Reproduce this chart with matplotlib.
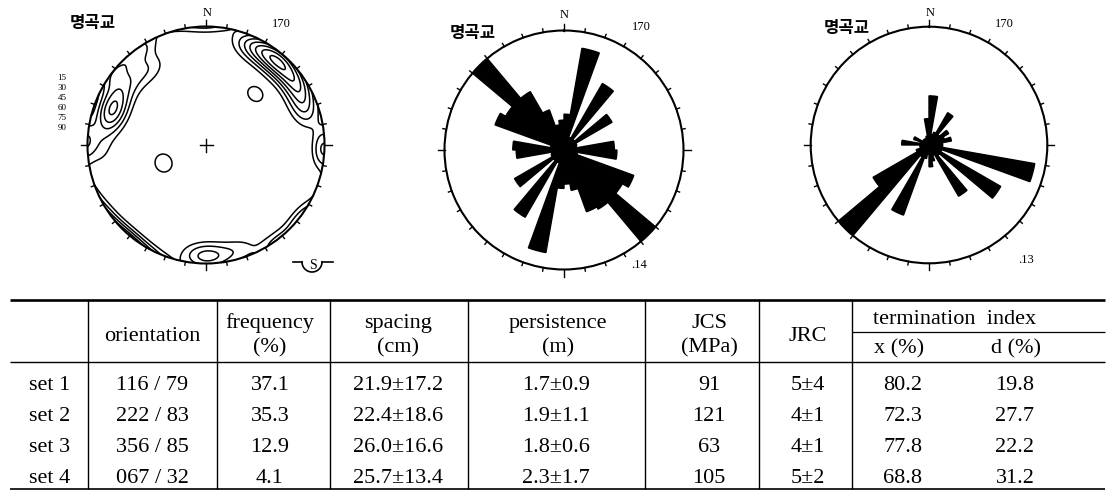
import numpy as np
import matplotlib
matplotlib.use("Agg")
import matplotlib.pyplot as plt
from matplotlib.patches import Circle

W, H = 1110, 499

# ---------------- data ----------------
site_label = "명곡교"
north_label = "N"
count_label = "170"
scale_labels = ["15", "30", "45", "60", "75", "90"]

# rose diagrams: % of joints in 10-degree bins (0-10, 10-20, ... 350-360)
rose1_pct = [4.2, 12.1, 1.6, 9.0, 1.6, 6.5, 1.6, 1.5, 5.9, 6.2, 1.6, 8.7,
             7.9, 14.0, 8.0, 7.7, 4.8, 4.0, 4.5, 12.2, 1.6, 9.1, 1.6, 6.7,
             1.6, 1.5, 5.6, 6.0, 1.6, 8.6, 7.9, 14.0, 7.9, 5.0, 3.0, 3.5]
rose1_max = 14.0
rose1_max_label = ".14"
rose3_pct = [5.4, 1.2, 1.5, 4.1, 1.5, 2.5, 1.8, 2.5, 1.5, 1.5, 11.8, 1.5,
             9.1, 1.5, 6.5, 1.2, 1.8, 2.4, 1.0, 1.5, 8.2, 1.5, 13.0, 7.1,
             1.5, 1.0, 1.0, 3.0, 1.0, 1.8, 0.8, 0.8, 0.8, 0.8, 1.0, 2.9]
rose3_max = 13.0
rose3_max_label = ".13"

# pole concentrations for the contoured stereonet (trend, plunge in degrees)
pole_trend = [40, 27, 54, 68, 290, 305, 322, 270, 308, 324, 92, 180, 163, 247, 44]
pole_plunge = [8, 9, 9, 13, 17, 16, 20, 12, 2, 2, 2, 7, 8, 58, 40]
pole_kappa = [50, 50, 50, 50, 50, 45, 45, 45, 70, 70, 75, 50, 50, 75, 90]
pole_weight = [0.6, 0.3, 0.4, 0.25, 0.45, 0.2, 0.15, 0.12, 0.22, 0.2, 0.25, 0.3, 0.12,
               0.15, 0.14]
contour_levels = [0.1, 0.18, 0.27, 0.37, 0.48, 0.6, 0.73]

# table
row_labels = ["set 1", "set 2", "set 3", "set 4"]
orientation = ["116 / 79", "222 / 83", "356 / 85", "067 / 32"]
frequency = ["37.1", "35.3", "12.9", "4.1"]
spacing = ["21.9±17.2", "22.4±18.6", "26.0±16.6", "25.7±13.4"]
persistence = ["1.7±0.9", "1.9±1.1", "1.8±0.6", "2.3±1.7"]
jcs = ["91", "121", "63", "105"]
jrc = ["5±4", "4±1", "4±1", "5±2"]
term_x = ["80.2", "72.3", "77.8", "68.8"]
term_d = ["19.8", "27.7", "22.2", "31.2"]

SERIF = "Liberation Serif"
KR = "Noto Sans CJK KR"

fig = plt.figure(figsize=(W / 100, H / 100), dpi=100)
fig.patch.set_facecolor("white")


def px_axes(cx, cy, half, polar=False):
    return fig.add_axes([(cx - half) / W, (H - cy - half) / H, 2 * half / W, 2 * half / H],
                        polar=polar)


# ---------------- overlay for text / table ----------------
ov = fig.add_axes([0, 0, 1, 1])
ov.set_xlim(0, W)
ov.set_ylim(H, 0)
ov.axis("off")


def t(x, y, s, size=16, ha="center", va="baseline", family=SERIF, **kw):
    ov.text(x, y, s, ha=ha, va=va, fontsize=size, family=family, **kw)


# ---------------- stereonet ----------------
SC = (206, 145)
SR = 118.5
ax = px_axes(SC[0], SC[1], SR * 1.12)
ax.set_xlim(-1.12, 1.12)
ax.set_ylim(-1.12, 1.12)
ax.set_aspect("equal")
ax.axis("off")

g = np.linspace(-1.06, 1.06, 500)
X, Y = np.meshgrid(g, g)
Rr = np.hypot(X, Y)
colat = 2 * np.arcsin(np.clip(Rr / np.sqrt(2), 0, 1))
P = np.pi / 2 - colat
T = np.arctan2(X, Y)
vx = np.cos(P) * np.cos(T)
vy = np.cos(P) * np.sin(T)
vz = np.sin(P)
Z = np.zeros_like(X)
for tr, pl, k, w in zip(pole_trend, pole_plunge, pole_kappa, pole_weight):
    tr, pl = np.deg2rad(tr), np.deg2rad(pl)
    mx, my, mz = np.cos(pl) * np.cos(tr), np.cos(pl) * np.sin(tr), np.sin(pl)
    d = np.abs(vx * mx + vy * my + vz * mz)
    Z += w * np.exp(k * (d - 1))
cs = ax.contour(X, Y, Z, levels=contour_levels, colors="black", linewidths=1.1)
clip = Circle((0, 0), 1, transform=ax.transData)
cs.set_clip_path(clip)
ax.add_patch(Circle((0, 0), 1, fill=False, lw=1.5, ec="black"))
for a in range(0, 360, 10):
    ar = np.deg2rad(a)
    L = 7 if a % 90 == 0 else 3.5
    r0, r1 = 1.0, 1 + L / SR
    ax.plot([r0 * np.sin(ar), r1 * np.sin(ar)], [r0 * np.cos(ar), r1 * np.cos(ar)],
            color="black", lw=1.0, clip_on=False)
c = 6.5 / SR
ax.plot([-c, c], [0, 0], color="black", lw=1.0)
ax.plot([0, 0], [-c, c], color="black", lw=1.0)

t(93, 28, site_label, size=12, family=KR, weight="bold")
t(207, 16, north_label, size=9)
t(281, 27, count_label, size=9)
for i, s in enumerate(scale_labels):
    t(62, 80 + 10 * i, s, size=6.5)
# S symbol
ov.plot([293, 302], [262, 262], color="black", lw=1.2)
tt = np.linspace(np.pi, 0, 30)
ov.plot(312 + 10 * np.cos(tt), 262 + 10 * np.sin(tt), color="black", lw=1.2)
ov.plot([322, 333], [262, 262], color="black", lw=1.2)
t(313, 269, "S", size=10)


# ---------------- rose diagrams ----------------
def rose(cx, cy, R, vals, rmax):
    a = px_axes(cx, cy, R, polar=True)
    a.set_theta_zero_location("N")
    a.set_theta_direction(-1)
    th = np.deg2rad(np.arange(5, 360, 10))
    a.bar(th, vals, width=np.deg2rad(10), bottom=0, color="black", edgecolor="black",
          linewidth=1.0, align="center")
    a.set_ylim(0, rmax)
    a.grid(False)
    a.set_xticks([])
    a.set_yticks([])
    a.spines["polar"].set_linewidth(1.5)
    a.set_facecolor("none")
    for d in range(0, 360, 10):
        L = 7 if d % 90 == 0 else 3.5
        tr = np.deg2rad(d)
        a.plot([tr, tr], [rmax, rmax * (1 + L / R)], color="black", lw=1.0, clip_on=False)
    return a


rose(564, 150, 119.5, rose1_pct, rose1_max)
t(473, 38, site_label, size=12, family=KR, weight="bold")
t(564, 18, north_label, size=9)
t(641, 30, count_label, size=9)
t(639, 268, rose1_max_label, size=9)

rose(929, 145, 118.3, rose3_pct, rose3_max)
t(847, 33, site_label, size=12, family=KR, weight="bold")
t(930, 16, north_label, size=9)
t(1004, 27, count_label, size=9)
t(1026, 263, rose3_max_label, size=9)

# ---------------- table ----------------
x0, x1 = 10, 1105
y_top, y_head, y_bot, y_sub = 300, 362, 489, 332
ov.plot([x0, x1], [y_top, y_top], color="black", lw=1.9, solid_capstyle="butt")
ov.plot([x0, x1], [y_head, y_head], color="black", lw=1.0, solid_capstyle="butt")
ov.plot([x0, x1], [y_bot, y_bot], color="black", lw=1.2, solid_capstyle="butt")
ov.plot([852, x1], [y_sub, y_sub], color="black", lw=0.9, solid_capstyle="butt")
for xv in [88, 217, 330, 468, 645, 759, 852]:
    ov.plot([xv, xv], [y_top, y_bot], color="black", lw=1.0, solid_capstyle="butt")

FS = 16
L1, L2 = 328, 352
t(152, 341, "orientation", size=FS)
t(270, L1, "frequency", size=FS)
t(270, L2, "(%)", size=FS)
t(398, L1, "spacing", size=FS)
t(398, L2, "(cm)", size=FS)
t(558, L1, "persistence", size=FS)
t(558, L2, "(m)", size=FS)
t(709, L1, "JCS", size=FS)
t(709, L2, "(MPa)", size=FS)
t(808, 341, "JRC", size=FS)
t(955, 324, "termination  index", size=FS)
t(899, 353, "x (%)", size=FS)
t(1016, 353, "d (%)", size=FS)

row_base = [390, 421, 452, 483]
cols = [(50, row_labels), (152, orientation), (270, frequency), (398, spacing),
        (556, persistence), (709, jcs), (808, jrc), (903, term_x), (1015, term_d)]
for xc, vals in cols:
    for yb, v in zip(row_base, vals):
        t(xc, yb, v, size=FS)

fig.savefig("out.png", dpi=100, facecolor="white")
